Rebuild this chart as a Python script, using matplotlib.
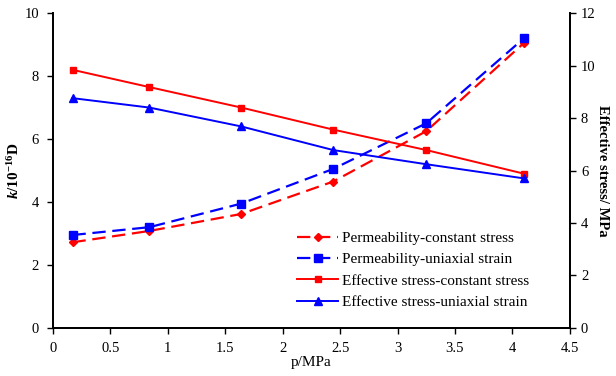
import matplotlib
matplotlib.use('Agg')
import matplotlib.pyplot as plt

plt.rcParams['font.family'] = ['Liberation Serif', 'DejaVu Serif']
plt.rcParams['mathtext.fontset'] = 'custom'
plt.rcParams['mathtext.rm'] = 'Liberation Serif'
plt.rcParams['mathtext.it'] = 'Liberation Serif:italic:bold'
plt.rcParams['mathtext.bf'] = 'Liberation Serif:bold'

# pressure (MPa)
p = [0.17, 0.84, 1.64, 2.44, 3.25, 4.1]

# permeability, 10^-16 D (left axis)
k_const_stress = [2.72, 3.08, 3.62, 4.65, 6.25, 9.05]
k_uniaxial = [2.95, 3.2, 3.95, 5.05, 6.5, 9.2]

# effective stress, MPa (right axis)
s_const_stress = [9.84, 9.18, 8.4, 7.56, 6.78, 5.88]
s_uniaxial = [8.76, 8.4, 7.68, 6.78, 6.24, 5.7]

fig = plt.figure(figsize=(6.16, 3.76), dpi=100)
ax1 = fig.add_axes([0.086, 0.128, 0.839, 0.837])
ax2 = ax1.twinx()

l1, = ax1.plot(p, k_const_stress, color='#ff0000', ls=(0, (6, 3)), lw=1.6,
               marker='D', ms=4.5, label='Permeability-constant stress')
l2, = ax1.plot(p, k_uniaxial, color='#0000ff', ls=(0, (6, 3)), lw=1.6,
               marker='s', ms=5.5, label='Permeability-uniaxial strain')
l3, = ax2.plot(p, s_const_stress, color='#ff0000', lw=1.4,
               marker='s', ms=4.5, label='Effective stress-constant stress')
l4, = ax2.plot(p, s_uniaxial, color='#0000ff', lw=1.4,
               marker='^', ms=5.5, label='Effective stress-uniaxial strain')

ax1.set_xlim(0, 4.5)
ax1.set_ylim(0, 10)
ax2.set_ylim(0, 12)
ax1.set_xticks([0, 0.5, 1, 1.5, 2, 2.5, 3, 3.5, 4, 4.5])
ax1.set_xticklabels(['0', '0.5', '1', '1.5', '2', '2.5', '3', '3.5', '4', '4.5'])
ax1.set_yticks(range(0, 11, 2))
ax2.set_yticks(range(0, 13, 2))

for ax in (ax1, ax2):
    ax.tick_params(direction='out', length=4, width=1, labelsize=10.5, colors='black')
    for s in ax.spines.values():
        s.set_linewidth(1.3)
ax1.spines['top'].set_visible(False)
ax2.spines['top'].set_visible(False)
ax1.tick_params(axis='y', pad=6)
ax1.tick_params(axis='x', pad=6)
ax2.tick_params(axis='y', pad=4)

ax1.set_xlabel('p/MPa', fontsize=11, labelpad=1)
ax1.set_ylabel(r'$\mathit{k}$/10$^{\mathbf{-16}}$D', fontsize=11, fontweight='bold', labelpad=2)
ax2.set_ylabel('Effective stress/ MPa', fontsize=10.5, fontweight='bold', rotation=270, labelpad=10)

fig.legend(handles=[l1, l2, l3, l4], loc='upper left', bbox_to_anchor=(0.47, 0.405),
           frameon=False, fontsize=11, handlelength=2.7, handletextpad=0.25,
           labelspacing=0.5, borderpad=0)

fig.savefig('out.png', dpi=100)
